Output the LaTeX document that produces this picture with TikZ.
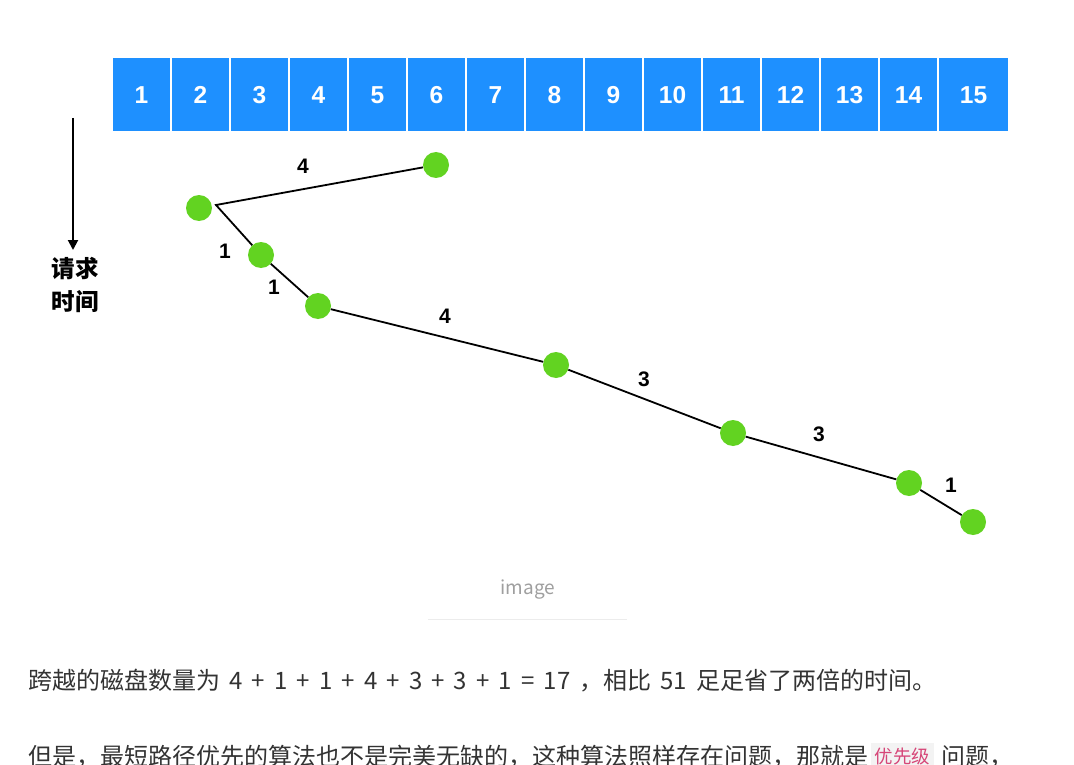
\documentclass[tikz,border=0pt]{standalone}
\usepackage{fontspec}
\setsansfont{Liberation Sans}
\newfontfamily\cjk{Noto Sans CJK SC}
\newfontfamily\cjkwide[WordSpace=1.7]{Noto Sans CJK SC}
\usetikzlibrary{positioning,arrows.meta}
\definecolor{cellblue}{RGB}{30,144,255}
\definecolor{dotgreen}{RGB}{98,211,33}
\definecolor{bodytext}{RGB}{51,51,51}
\definecolor{codepink}{RGB}{214,70,120}
\definecolor{codebg}{RGB}{243,243,243}
\tikzset{
  cell/.style={fill=cellblue, minimum height=73pt, minimum width=57pt, inner sep=0pt,
    text height=17.5pt, text depth=0pt,
    text=white, font=\sffamily\bfseries\fontsize{24.5}{24.5}\selectfont},
  req/.style={circle, fill=dotgreen, minimum size=26pt, inner sep=0pt},
  hop/.style={font=\sffamily\bfseries\fontsize{21}{21}\selectfont, inner sep=0pt},
  body/.style={text=bodytext, font=\cjk\fontsize{24}{28}\selectfont, inner sep=0pt},
}

\begin{document}
\begin{tikzpicture}[x=1pt, y=-1pt]
\clip (0,0) rectangle (1074,765);
\fill[white] (0,0) rectangle (1074,765);
% cylinders
\foreach \i in {1,...,14}
  \node[cell] (c\i) at ({141.5+(\i-1)*59},94.5) {\i};
\node[cell, minimum width=69pt] (c15) at (973.5,94.5) {15};
% time axis
\coordinate (t0) at (73,118);
\coordinate (t1) at (73,250);
\draw[line width=2pt, -{Triangle[length=10pt, width=10pt]}] (t0) -- (t1);
\node[font=\cjk\bfseries\fontsize{23.5}{33}\selectfont, align=center] (tlabel) at (75,285) {请求\\时间};
% requests in service order
\node[req] (r6) at (436,165) {};
\node[req] (r2) at (199,208) {};
\node[req] (r3) at (261,255) {};
\node[req] (r4) at (318,306) {};
\node[req] (r8) at (556,365) {};
\node[req] (r11) at (733,433) {};
\node[req] (r14) at (909,483) {};
\node[req] (r15) at (973,522) {};
\coordinate (v2) at (216,205);
\draw[line width=1.8pt] (r6) -- (v2) -- (r3);
\draw[line width=1.8pt] (r3) -- (r4) -- (r8) -- (r11) -- (r14) -- (r15);
% seek distances
\node[hop] (h1) at (303,166) {4};
\node[hop] (h2) at (225,251) {1};
\node[hop] (h3) at (274,287) {1};
\node[hop] (h4) at (445,316) {4};
\node[hop] (h5) at (644,379) {3};
\node[hop] (h6) at (819,434) {3};
\node[hop] (h7) at (951,485) {1};
% caption
\node[text=gray!75, font=\cjk\fontsize{19}{19}\selectfont] (cap) at (528,590) {image};
\coordinate (capl) at (428,619);
\coordinate (capr) at (627,619);
\draw[gray!15, line width=1pt] (capl) -- (capr);
% text below
\node[body, font=\cjkwide\fontsize{24}{28}\selectfont, anchor=west] (sum) at (28,681) {跨越的磁盘数量为 4 + 1 + 1 + 4 + 3 + 3 + 1 = 17 ，相比 51 足足省了两倍的时间。};
\node[body, anchor=west] (but) at (28,757) {但是，最短路径优先的算法也不是完美无缺的，这种算法照样存在问题，那就是};
\node[fill=codebg, text=codepink, font=\cjk\fontsize{18.5}{18.5}\selectfont, inner xsep=4pt, inner ysep=5pt, right=2pt of but] (code) {优先级};
\node[body, right=7pt of code] (rest) {问题，};
\end{tikzpicture}
\end{document}
